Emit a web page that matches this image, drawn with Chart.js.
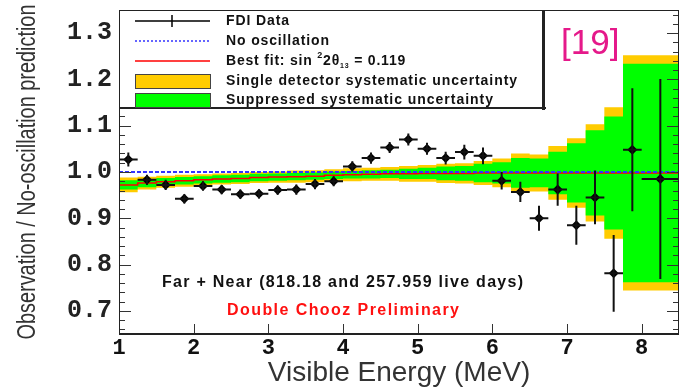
<!DOCTYPE html>
<html>
<head>
<meta charset="utf-8">
<script src="https://cdn.jsdelivr.net/npm/chart.js@4.4.1/dist/chart.umd.min.js"></script>
<style>
  html, body { margin: 0; padding: 0; background: #fff; }
  #wrap { width: 685px; height: 387px; position: relative; }
</style>
</head>
<body>
<div id="wrap"><canvas id="ratioChart"></canvas></div>
<script>
// bin edges of the visible energy histogram (MeV)
const binEdges = [1.0, 1.25, 1.5, 1.75, 2.0, 2.25, 2.5, 2.75, 3.0, 3.25, 3.5, 3.75, 4.0, 4.25, 4.5, 4.75,
                  5.0, 5.25, 5.5, 5.75, 6.0, 6.25, 6.5, 6.75, 7.0, 7.25, 7.5, 7.75, 8.0, 8.5];
const energy = [1.125, 1.375, 1.625, 1.875, 2.125, 2.375, 2.625, 2.875, 3.125, 3.375, 3.625, 3.875,
                4.125, 4.375, 4.625, 4.875, 5.125, 5.375, 5.625, 5.875, 6.125, 6.375, 6.625, 6.875,
                7.125, 7.375, 7.625, 7.875, 8.25];
// FDI data: observation / no-oscillation prediction and statistical error
const ratio = [1.027, 0.983, 0.972, 0.942, 0.970, 0.962, 0.952, 0.953, 0.961, 0.962, 0.974, 0.980,
               1.012, 1.030, 1.053, 1.070, 1.050, 1.030, 1.043, 1.035, 0.981, 0.957, 0.900, 0.962,
               0.885, 0.945, 0.781, 1.048, 0.985];
const statErr = [0.015, 0.011, 0.011, 0.010, 0.010, 0.010, 0.010, 0.010, 0.010, 0.011, 0.011, 0.011,
                 0.011, 0.012, 0.012, 0.013, 0.013, 0.014, 0.016, 0.018, 0.019, 0.022, 0.027, 0.035,
                 0.042, 0.058, 0.083, 0.133, 0.216];
// best fit sin^2 2theta13 = 0.119
const bestFit = [0.966, 0.972, 0.976, 0.979, 0.981, 0.983, 0.985, 0.986, 0.988, 0.989, 0.990, 0.991,
                 0.993, 0.994, 0.995, 0.996, 0.996, 0.997, 0.997, 0.997, 0.998, 0.998, 0.998, 0.998,
                 0.998, 0.998, 0.998, 0.998, 0.998];
// half widths of the systematic bands around the best fit
const suppressedSyst = [0.0135, 0.010, 0.009, 0.008, 0.008, 0.008, 0.008, 0.008, 0.008, 0.008, 0.008, 0.008,
                        0.008, 0.008, 0.009, 0.009, 0.011, 0.012, 0.015, 0.016, 0.020, 0.023, 0.032, 0.031,
                        0.046, 0.064, 0.092, 0.122, 0.236];
const singleSyst = [0.022, 0.016, 0.014, 0.013, 0.013, 0.012, 0.012, 0.012, 0.012, 0.012, 0.013, 0.013,
                    0.013, 0.014, 0.014, 0.015, 0.017, 0.018, 0.021, 0.022, 0.026, 0.031, 0.042, 0.040,
                    0.058, 0.075, 0.105, 0.142, 0.254];
const noOscRatio = 1.0;
const xTickLabels = [1, 2, 3, 4, 5, 6, 7, 8];
const yTickLabels = [0.7, 0.8, 0.9, 1.0, 1.1, 1.2, 1.3];

const YELLOW = '#ffcc00';
const GREEN = '#00ff00';
const SANS = '"Liberation Sans", Arial, sans-serif';

// histogram as stepped line through the bin edges
function stepData(vals) {
    return binEdges.map((e, i) => ({ x: e, y: vals[Math.min(i, vals.length - 1)] }));
}
const yellowLo = bestFit.map((v, i) => v - singleSyst[i]);
const yellowHi = bestFit.map((v, i) => v + singleSyst[i]);
const greenLo = bestFit.map((v, i) => v - suppressedSyst[i]);
const greenHi = bestFit.map((v, i) => v + suppressedSyst[i]);

// text spread out to a given width, like the wide ROOT fonts
function spreadText(ctx, text, x, y, width) {
    ctx.letterSpacing = '0px';
    const w = ctx.measureText(text).width;
    ctx.letterSpacing = Math.max(0, (width - w) / (text.length - 1)) + 'px';
    ctx.fillText(text, x, y);
    ctx.letterSpacing = '0px';
}

const errorBars = {
    id: 'errorBars',
    afterDatasetsDraw(chart) {
        const ctx = chart.ctx, xs = chart.scales.x, ys = chart.scales.y, a = chart.chartArea;
        ctx.save();
        ctx.beginPath();
        ctx.rect(a.left, a.top, a.right - a.left, a.bottom - a.top);
        ctx.clip();
        ctx.strokeStyle = '#111';
        ctx.lineWidth = 2;
        energy.forEach((e, i) => {
            const px = xs.getPixelForValue(e), py = ys.getPixelForValue(ratio[i]);
            ctx.beginPath();
            ctx.moveTo(xs.getPixelForValue(binEdges[i]), py);
            ctx.lineTo(xs.getPixelForValue(binEdges[i + 1]), py);
            ctx.moveTo(px, ys.getPixelForValue(ratio[i] - statErr[i]));
            ctx.lineTo(px, ys.getPixelForValue(ratio[i] + statErr[i]));
            ctx.stroke();
        });
        ctx.restore();
    }
};

const frameAndTicks = {
    id: 'frameAndTicks',
    afterDraw(chart) {
        const ctx = chart.ctx, xs = chart.scales.x, ys = chart.scales.y, a = chart.chartArea;
        ctx.save();
        ctx.strokeStyle = '#333';
        ctx.lineWidth = 1;
        // inward y ticks on both sides
        for (let k = 33; k <= 67; k++) {
            const y = Math.round(ys.getPixelForValue(k / 50)) + 0.5;
            const len = k % 5 === 0 ? 12 : 6;
            ctx.beginPath();
            ctx.moveTo(a.left, y); ctx.lineTo(a.left + len, y);
            ctx.moveTo(a.right, y); ctx.lineTo(a.right - len, y);
            ctx.stroke();
        }
        xTickLabels.forEach(v => {
            const x = Math.round(xs.getPixelForValue(v)) + 0.5;
            ctx.beginPath();
            ctx.moveTo(x, a.bottom); ctx.lineTo(x, a.bottom - 10);
            ctx.stroke();
        });
        ctx.strokeStyle = '#222';
        ctx.strokeRect(a.left + 0.5, a.top + 0.5, a.right - a.left - 1, a.bottom - a.top);
        ctx.lineWidth = 2;
        ctx.beginPath();
        ctx.moveTo(a.left, a.bottom); ctx.lineTo(a.right, a.bottom);
        ctx.stroke();

        // y axis title, condensed
        ctx.save();
        ctx.translate(28, (a.top + a.bottom) / 2);
        ctx.rotate(-Math.PI / 2);
        ctx.font = '25px ' + SANS;
        const yTitle = 'Observation / No-oscillation prediction';
        const tw = ctx.measureText(yTitle).width;
        ctx.scale(335 / tw, 1);
        ctx.fillStyle = '#333';
        ctx.textAlign = 'center';
        ctx.textBaseline = 'middle';
        ctx.fillText(yTitle, 0, 0);
        ctx.restore();

        // legend box
        const lx = a.left, ly = a.top, lw = 424, lh = 97;
        ctx.fillStyle = '#fff';
        ctx.fillRect(lx, ly, lw, lh);
        ctx.lineWidth = 1;
        ctx.strokeStyle = '#222';
        ctx.strokeRect(lx + 0.5, ly + 0.5, lw, lh);
        ctx.fillStyle = '#222';
        ctx.fillRect(lx + lw - 1, ly + 1, 3, lh + 2);
        ctx.fillRect(lx + 1, ly + lh, lw + 2, 2);

        const sx0 = 135, sx1 = 210, tx = 226;
        const rows = [11, 31, 51, 71, 90].map(r => ly + r);
        ctx.lineWidth = 1.5;
        ctx.strokeStyle = '#000';
        ctx.beginPath();
        ctx.moveTo(sx0, rows[0]); ctx.lineTo(sx1, rows[0]);
        ctx.moveTo(172, rows[0] - 6); ctx.lineTo(172, rows[0] + 6);
        ctx.stroke();
        ctx.strokeStyle = '#3333ff';
        ctx.setLineDash([2, 2]);
        ctx.beginPath();
        ctx.moveTo(sx0, rows[1]); ctx.lineTo(sx1, rows[1]);
        ctx.stroke();
        ctx.setLineDash([]);
        ctx.strokeStyle = '#ff0000';
        ctx.beginPath();
        ctx.moveTo(sx0, rows[2]); ctx.lineTo(sx1, rows[2]);
        ctx.stroke();
        ctx.lineWidth = 1;
        ctx.strokeStyle = '#444';
        ctx.fillStyle = YELLOW;
        ctx.fillRect(sx0, rows[3] - 7, sx1 - sx0, 14);
        ctx.strokeRect(sx0 + 0.5, rows[3] - 6.5, sx1 - sx0, 14);
        ctx.fillStyle = GREEN;
        ctx.fillRect(sx0, rows[4] - 7, sx1 - sx0, 14);
        ctx.strokeRect(sx0 + 0.5, rows[4] - 6.5, sx1 - sx0, 14);

        ctx.fillStyle = '#111';
        ctx.textBaseline = 'middle';
        ctx.textAlign = 'left';
        ctx.font = 'bold 14px ' + SANS;
        spreadText(ctx, 'FDI Data', tx, rows[0], 63);
        spreadText(ctx, 'No oscillation', tx, rows[1], 103);
        spreadText(ctx, 'Single detector systematic uncertainty', tx, rows[3], 291);
        spreadText(ctx, 'Suppressed systematic uncertainty', tx, rows[4], 267);
        // Best fit: sin ²2θ₁₃ = 0.119
        let cx = tx;
        const part = (t, font, dy) => {
            ctx.font = font;
            ctx.letterSpacing = '0.8px';
            ctx.fillText(t, cx, rows[2] + dy);
            cx += ctx.measureText(t).width;
            ctx.letterSpacing = '0px';
        };
        part('Best fit: sin ', 'bold 14px ' + SANS, 0);
        part('2', 'bold 9px ' + SANS, -5);
        part('2θ', 'bold 14px ' + SANS, 0);
        part('13', 'bold 7px ' + SANS, 5);
        part(' = 0.119', 'bold 14px ' + SANS, 0);

        // annotations
        ctx.font = 'bold 16px ' + SANS;
        ctx.fillStyle = '#111';
        spreadText(ctx, 'Far + Near (818.18 and 257.959 live days)', 162, 283, 361);
        ctx.fillStyle = '#ff1010';
        spreadText(ctx, 'Double Chooz Preliminary', 227, 311, 232);
        ctx.font = '35px ' + SANS;
        ctx.fillStyle = '#e5198a';
        ctx.fillText('[19]', 561, 44);
        ctx.restore();
    }
};

new Chart(document.getElementById('ratioChart'), {
    type: 'scatter',
    data: {
        datasets: [
            { data: stepData(yellowLo), showLine: true, stepped: 'after', borderWidth: 0,
              borderColor: 'transparent', pointRadius: 0, fill: false, order: 6 },
            { data: stepData(yellowHi), showLine: true, stepped: 'after', borderWidth: 0,
              borderColor: 'transparent', pointRadius: 0, fill: 0, backgroundColor: YELLOW, order: 5 },
            { data: stepData(greenLo), showLine: true, stepped: 'after', borderWidth: 0,
              borderColor: 'transparent', pointRadius: 0, fill: false, order: 4 },
            { data: stepData(greenHi), showLine: true, stepped: 'after', borderWidth: 0,
              borderColor: 'transparent', pointRadius: 0, fill: 2, backgroundColor: GREEN, order: 3 },
            { data: stepData(bestFit), showLine: true, stepped: 'after', borderWidth: 1.5,
              borderColor: '#ff0000', pointRadius: 0, fill: false, order: 2 },
            { data: [{ x: binEdges[0], y: noOscRatio }, { x: binEdges[binEdges.length - 1], y: noOscRatio }],
              showLine: true, borderWidth: 2, borderColor: '#3333ff', borderDash: [4, 2],
              pointRadius: 0, fill: false, order: 1 },
            { data: energy.map((e, i) => ({ x: e, y: ratio[i] })), pointStyle: 'rectRot',
              pointRadius: 5, backgroundColor: '#000', borderColor: '#000', borderWidth: 0, order: 0 }
        ]
    },
    options: {
        responsive: true,
        maintainAspectRatio: false,
        animation: false,
        layout: { padding: { left: 0, right: 6, top: 10, bottom: 0 } },
        plugins: { legend: { display: false }, tooltip: { enabled: false } },
        scales: {
            x: {
                type: 'linear', min: 1, max: 8.5,
                afterBuildTicks: s => { s.ticks = xTickLabels.map(v => ({ value: v })); },
                afterFit: s => { s.height = 53; s.paddingLeft = 0; s.paddingRight = 0; },
                grid: { display: false, drawTicks: false },
                border: { display: false },
                ticks: { color: '#111', padding: 1, maxRotation: 0,
                         font: { family: '"Liberation Mono", monospace', size: 22, weight: 'bold' } },
                title: { display: true, text: 'Visible Energy (MeV)', color: '#333',
                         font: { family: SANS, size: 28, lineHeight: 1 },
                         padding: { top: -9, bottom: 0 } }
            },
            y: {
                min: 0.65, max: 1.35,
                afterBuildTicks: s => { s.ticks = yTickLabels.map(v => ({ value: v })); },
                afterFit: s => { s.width = 119; s.paddingTop = 0; s.paddingBottom = 0; },
                grid: { display: false, drawTicks: false },
                border: { display: false },
                ticks: { color: '#222', padding: 7, callback: v => v.toFixed(1),
                         font: { family: '"Liberation Mono", monospace', size: 25, weight: 'bold' } },
                title: { display: false }
            }
        }
    },
    plugins: [errorBars, frameAndTicks]
});
</script>
</body>
</html>
